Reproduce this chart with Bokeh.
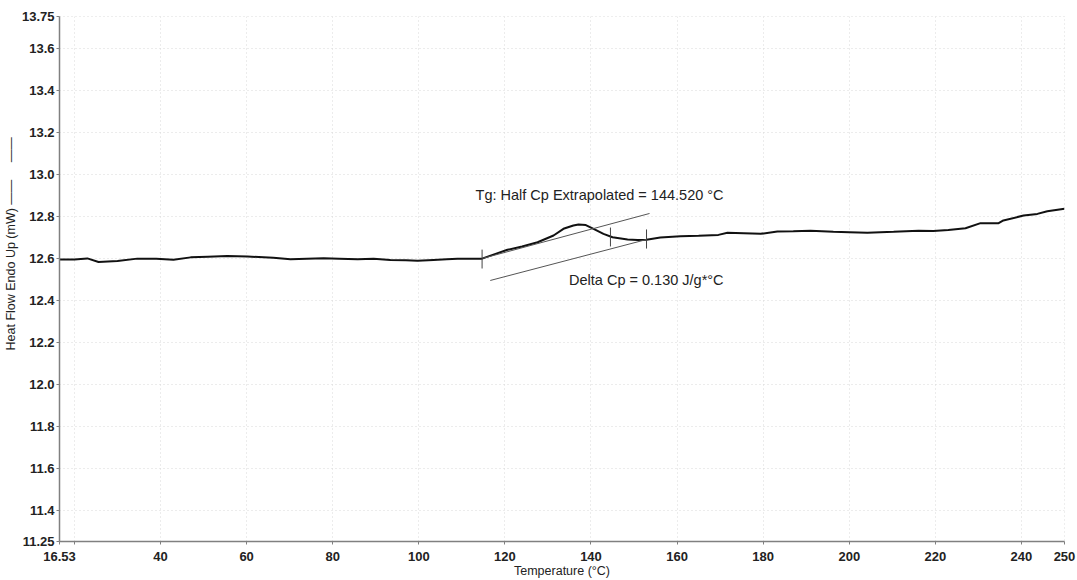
from bokeh.plotting import figure
from bokeh.models import FixedTicker, Label, Range1d, Title
from bokeh.embed import file_html
from bokeh.resources import INLINE

# ---- data ----
temperature = [16.53, 20.0, 23.0, 25.6, 30.0, 34.6, 39.0, 43.0, 47.0, 51.0, 55.5,
               60.2, 66.2, 70.2, 74.0, 77.9, 81.5, 85.8, 89.5, 93.4, 97.0, 99.7,
               103.4, 106.5, 109.0, 112.0, 114.7, 117.5, 120.6, 124.0, 127.6, 131.3,
               133.6, 135.9, 137.1, 138.8, 140.6, 142.9, 145.0, 148.5, 150.8, 152.9,
               156.1, 160.8, 165.0, 169.6, 171.7, 175.5, 179.4, 183.3, 187.0, 191.0,
               196.3, 200.0, 204.2, 210.3, 216.1, 219.5, 223.0, 227.0, 230.5, 234.7,
               235.8, 240.5, 243.7, 246.0, 250.0]
heat_flow = [12.593, 12.593, 12.598, 12.581, 12.586, 12.597, 12.596, 12.592, 12.603,
             12.606, 12.609, 12.607, 12.601, 12.594, 12.597, 12.599, 12.597, 12.594,
             12.596, 12.591, 12.589, 12.587, 12.591, 12.594, 12.596, 12.596, 12.597,
             12.617, 12.639, 12.655, 12.675, 12.707, 12.739, 12.755, 12.760, 12.757,
             12.739, 12.715, 12.699, 12.688, 12.686, 12.687, 12.698, 12.704, 12.706,
             12.710, 12.720, 12.718, 12.715, 12.726, 12.727, 12.730, 12.725, 12.723,
             12.720, 12.725, 12.730, 12.728, 12.733, 12.742, 12.766, 12.766, 12.779,
             12.802, 12.810, 12.823, 12.834]

upper_tangent_t = [114.8, 153.6]
upper_tangent_hf = [12.598, 12.812]
lower_tangent_t = [116.6, 152.9]
lower_tangent_hf = [12.493, 12.688]

marker_t = [114.7, 144.52, 152.9]
marker_hf_low = [12.550, 12.655, 12.645]
marker_hf_high = [12.640, 12.745, 12.736]

x_ticks = [16.53, 20, 40, 60, 80, 100, 120, 140, 160, 180, 200, 220, 240, 250]
x_tick_labels = ["16.53", "", "40", "60", "80", "100", "120", "140", "160", "180",
                 "200", "220", "240", "250"]
y_ticks = [11.25, 11.4, 11.6, 11.8, 12.0, 12.2, 12.4, 12.6, 12.8, 13.0, 13.2, 13.4,
           13.6, 13.75]
y_tick_labels = ["11.25", "11.4", "11.6", "11.8", "12.0", "12.2", "12.4", "12.6",
                 "12.8", "13.0", "13.2", "13.4", "13.6", "13.75"]

x_title = "Temperature (°C)"
y_title = ("Heat Flow Endo Up (mW) \u2014\u2014"
           "\u00a0\u00a0\u00a0\u00a0\u00a0\u2014\u2014")
tg_text = "Tg: Half Cp Extrapolated = 144.520 °C"
dcp_text = "Delta Cp = 0.130 J/g*°C"

FONT = "Liberation Sans"

p = figure(width=1077, height=580, output_backend="svg", toolbar_location=None,
           x_range=Range1d(16.53, 250), y_range=Range1d(11.25, 13.75),
           min_border_left=59, min_border_right=13, min_border_top=16,
           min_border_bottom=39)
p.background_fill_color = "white"
p.border_fill_color = "white"
p.outline_line_color = "#dddddd"
p.outline_line_dash = "1 3"

# axes
for ax in (p.xaxis[0], p.yaxis[0]):
    ax.axis_line_color = "#808080"
    ax.axis_line_width = 1.5
    ax.major_tick_line_color = "#808080"
    ax.major_tick_out = 3
    ax.major_tick_in = 0
    ax.minor_tick_line_color = None
    ax.major_label_text_font = FONT
    ax.major_label_text_font_size = "13px"
    ax.major_label_text_font_style = "bold"
    ax.major_label_text_color = "#222222"
    ax.axis_label_text_font = FONT
    ax.axis_label_text_font_size = "12.5px"
    ax.axis_label_text_font_style = "normal"
    ax.axis_label_text_color = "#222222"

p.xaxis.ticker = FixedTicker(ticks=x_ticks)
p.xaxis.major_label_overrides = {float(t): l for t, l in zip(x_ticks, x_tick_labels)}
p.xaxis.axis_label = x_title
p.xaxis.major_label_standoff = 7
p.xaxis.axis_label_standoff = 0

p.yaxis.ticker = FixedTicker(ticks=y_ticks)
p.yaxis.major_label_overrides = {float(t): l for t, l in zip(y_ticks, y_tick_labels)}
p.yaxis.axis_label = None
p.yaxis.major_label_standoff = 2

# y-axis title with its legend line, placed like the original
p.add_layout(Title(text=y_title, align="left", offset=191, standoff=2,
                   text_font=FONT, text_font_size="12.5px",
                   text_font_style="normal", text_color="#222222"), "left")

p.xgrid.ticker = FixedTicker(ticks=x_ticks[1:-1])
p.ygrid.ticker = FixedTicker(ticks=y_ticks[1:-1])
for g in (p.xgrid[0], p.ygrid[0]):
    g.grid_line_color = "#d9d9d9"
    g.grid_line_dash = "1 3"
    g.grid_line_width = 1

# main curve
p.line(temperature, heat_flow, line_color="#111111", line_width=2)

# tangent lines
p.line(upper_tangent_t, upper_tangent_hf, line_color="#555555", line_width=1)
p.line(lower_tangent_t, lower_tangent_hf, line_color="#555555", line_width=1)

# onset / Tg / end markers
p.segment(x0=marker_t, y0=marker_hf_low, x1=marker_t, y1=marker_hf_high,
          line_color="#444444", line_width=1)

# annotation texts
p.add_layout(Label(x=170.8, y=12.898, text=tg_text, text_align="right",
                   text_baseline="middle", text_font=FONT,
                   text_font_size="14.5px", text_color="#222222"))
p.add_layout(Label(x=170.8, y=12.493, text=dcp_text, text_align="right",
                   text_baseline="middle", text_font=FONT,
                   text_font_size="14.5px", text_color="#222222"))

open("out.html", "w").write(file_html(p, INLINE))
